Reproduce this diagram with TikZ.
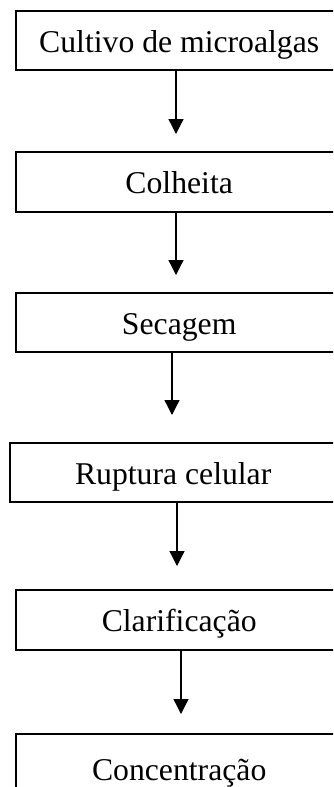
\documentclass[tikz,border=0pt]{standalone}
\usepackage{fontspec}
\setmainfont{Liberation Serif}
\usetikzlibrary{arrows.meta}

\tikzset{
  stage/.style={draw=black, line width=2.4pt, rectangle, anchor=north west,
    minimum width=326pt, inner sep=0pt, text height=23pt, text depth=0pt,
    font=\fontsize{31.7}{38}\selectfont},
  flow/.style={draw=black, line width=1.3pt,
    -{Triangle[length=15pt,width=15pt]}}
}

\begin{document}
\begin{tikzpicture}[x=1pt,y=-1pt]
  \useasboundingbox (0,0) rectangle (333,787);
  \clip (0,0) rectangle (333,787);

  % process stages (right edges run past the page)
  \node[stage, minimum height=59pt] (cult) at (15,10)  {Cultivo de microalgas};
  \node[stage, minimum height=60pt] (colh) at (15,151) {Colheita};
  \node[stage, minimum height=59pt] (seca) at (15,292) {Secagem};
  \node[stage, minimum height=59pt] (rupt) at (9,442)  {Ruptura celular};
  \node[stage, minimum height=60pt] (clar) at (15,589) {Clarificação};
  \node[stage, minimum height=70pt] (conc) at (15,733) {Concentração};

  % arrow tips stop short of the next stage
  \coordinate (t1) at (176,134);
  \coordinate (t2) at (176,275);
  \coordinate (t3) at (172,415);
  \coordinate (t4) at (177,566);
  \coordinate (t5) at (181,714);

  \draw[flow] (cult.south -| t1) -- (t1);
  \draw[flow] (colh.south -| t2) -- (t2);
  \draw[flow] (seca.south -| t3) -- (t3);
  \draw[flow] (rupt.south -| t4) -- (t4);
  \draw[flow] (clar.south -| t5) -- (t5);
\end{tikzpicture}
\end{document}
